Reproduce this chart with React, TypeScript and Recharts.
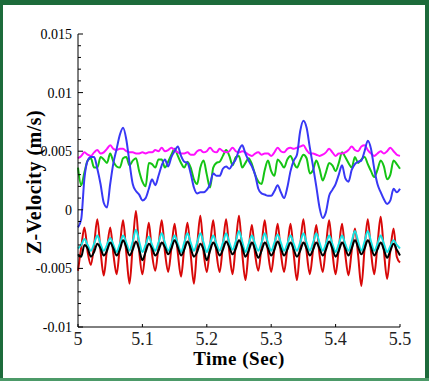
import { LineChart, Line, XAxis, YAxis } from "recharts";

// sample times (s)
const time = [
  5.0, 5.005, 5.01, 5.015, 5.02, 5.025, 5.03, 5.035, 5.04, 5.045,
  5.05, 5.055, 5.06, 5.065, 5.07, 5.075, 5.08, 5.085, 5.09, 5.095,
  5.1, 5.105, 5.11, 5.115, 5.12, 5.125, 5.13, 5.135, 5.14, 5.145,
  5.15, 5.155, 5.16, 5.165, 5.17, 5.175, 5.18, 5.185, 5.19, 5.195,
  5.2, 5.205, 5.21, 5.215, 5.22, 5.225, 5.23, 5.235, 5.24, 5.245,
  5.25, 5.255, 5.26, 5.265, 5.27, 5.275, 5.28, 5.285, 5.29, 5.295,
  5.3, 5.305, 5.31, 5.315, 5.32, 5.325, 5.33, 5.335, 5.34, 5.345,
  5.35, 5.355, 5.36, 5.365, 5.37, 5.375, 5.38, 5.385, 5.39, 5.395,
  5.4, 5.405, 5.41, 5.415, 5.42, 5.425, 5.43, 5.435, 5.44, 5.445,
  5.45, 5.455, 5.46, 5.465, 5.47, 5.475, 5.48, 5.485, 5.49, 5.495,
  5.5,
];

const magenta = [
  0.0044, 0.0046, 0.0049, 0.0047, 0.0046, 0.0049, 0.0051, 0.0048, 0.0049, 0.0052,
  0.0055, 0.0052, 0.0051, 0.0052, 0.0052, 0.005, 0.0049, 0.0049, 0.0048, 0.0048,
  0.0049, 0.0048, 0.0049, 0.0049, 0.0051, 0.005, 0.0053, 0.005, 0.0051, 0.0053,
  0.0051, 0.0049, 0.0048, 0.0048, 0.0049, 0.0047, 0.0047, 0.005, 0.0051, 0.0049,
  0.005, 0.0053, 0.005, 0.0049, 0.0052, 0.005, 0.0049, 0.005, 0.0053, 0.005,
  0.0049, 0.005, 0.0049, 0.0047, 0.0046, 0.0048, 0.0049, 0.0047, 0.0048, 0.0048,
  0.0046, 0.0049, 0.0053, 0.005, 0.0049, 0.0052, 0.0053, 0.0052, 0.0053, 0.0054,
  0.0055, 0.0051, 0.0048, 0.0048, 0.0047, 0.0046, 0.0047, 0.0049, 0.0052, 0.0049,
  0.0046, 0.0048, 0.0048, 0.0049, 0.0051, 0.0054, 0.0051, 0.005, 0.0054, 0.0055,
  0.0051, 0.0048, 0.0046, 0.0048, 0.005, 0.0048, 0.005, 0.0053, 0.005, 0.0047,
  0.0046,
];

const green = [
  0.0036, 0.0021, 0.0032, 0.0042, 0.0044, 0.0036, 0.0036, 0.0045, 0.0043, 0.004,
  0.0048, 0.0041, 0.0037, 0.0036, 0.0044, 0.0045, 0.0038, 0.0042, 0.0044, 0.0033,
  0.0024, 0.002, 0.004, 0.0039, 0.0036, 0.0043, 0.0043, 0.0036, 0.0041, 0.0047,
  0.0052, 0.0046, 0.004, 0.0036, 0.0041, 0.0036, 0.0026, 0.0022, 0.0036, 0.0042,
  0.003, 0.0019, 0.0036, 0.004, 0.0041, 0.0046, 0.0051, 0.0046, 0.0038, 0.0045,
  0.0046, 0.0036, 0.004, 0.0044, 0.0039, 0.003, 0.0024, 0.0022, 0.0034, 0.0042,
  0.0033, 0.0029, 0.0043, 0.004, 0.0036, 0.0043, 0.0046, 0.004, 0.0036, 0.0042,
  0.0047, 0.0044, 0.0031, 0.0034, 0.0042, 0.0035, 0.0025, 0.0032, 0.004, 0.0038,
  0.0033, 0.004, 0.0049, 0.0045, 0.004, 0.0036, 0.0045, 0.004, 0.0043, 0.0045,
  0.0039, 0.0033, 0.0028, 0.0034, 0.0042, 0.0037, 0.0026, 0.003, 0.0042, 0.0039,
  0.0035,
];

const blue = [
  -0.0015, -0.0008, 0.0027, 0.0042, 0.0045, 0.0045, 0.0035, 0.0022, 0.0006, 0.0002,
  0.0022, 0.004, 0.0052, 0.0064, 0.007, 0.006, 0.004, 0.0022, 0.0016, 0.0013,
  0.0008, 0.001, 0.0018, 0.0026, 0.0021, 0.0029, 0.0038, 0.0043, 0.0037, 0.0045,
  0.005, 0.0054, 0.0046, 0.0041, 0.004, 0.0031, 0.0019, 0.0014, 0.0015, 0.0015,
  0.0017, 0.0022, 0.0031, 0.0029, 0.0029, 0.0035, 0.0037, 0.0035, 0.0039, 0.0043,
  0.0051, 0.0055, 0.0048, 0.0042, 0.0037, 0.003, 0.0018, 0.0014, 0.0013, 0.0012,
  0.0012, 0.0016, 0.0021, 0.0015, 0.001, 0.0019, 0.0033, 0.0042, 0.0047, 0.0067,
  0.0076, 0.007, 0.0053, 0.0037, 0.002, 0.0002, -0.0007, -0.0002, 0.0012, 0.0017,
  0.0022, 0.003, 0.0038, 0.0027, 0.0024, 0.0034, 0.0039, 0.0041, 0.0042, 0.005,
  0.0059, 0.0052, 0.0035, 0.0022, 0.0015, 0.0009, 0.0005, 0.0008, 0.0018, 0.0015,
  0.0018,
];

const red = [
  -0.0052, -0.0032, -0.0015, -0.0036, -0.0047, -0.003, -0.0008, -0.0035, -0.0056, -0.0034,
  -0.0015, -0.0038, -0.0055, -0.0031, -0.0009, -0.0037, -0.0063, -0.003, -0.0001, -0.0035,
  -0.0055, -0.0033, -0.0011, -0.0038, -0.0052, -0.0031, -0.0009, -0.0036, -0.0053, -0.0033,
  -0.0012, -0.0037, -0.0057, -0.0032, -0.0011, -0.0038, -0.0063, -0.0031, -0.0005, -0.0036,
  -0.0053, -0.0031, -0.0009, -0.0037, -0.0053, -0.003, -0.0008, -0.0036, -0.0055, -0.0029,
  -0.0005, -0.0037, -0.006, -0.0034, -0.0013, -0.0038, -0.0052, -0.0031, -0.0009, -0.0036,
  -0.0053, -0.0033, -0.0012, -0.0037, -0.0053, -0.0033, -0.0012, -0.0038, -0.006, -0.0031,
  -0.0008, -0.0036, -0.0055, -0.0034, -0.0013, -0.0038, -0.0053, -0.0031, -0.0009, -0.0036,
  -0.0055, -0.0033, -0.0012, -0.0038, -0.0056, -0.0035, -0.0016, -0.0039, -0.0065, -0.0033,
  -0.0008, -0.0036, -0.0055, -0.003, -0.0006, -0.0035, -0.0059, -0.0035, -0.0016, -0.004,
  -0.0045,
];

const cyan = [
  -0.0033, -0.003, -0.0025, -0.003, -0.0035, -0.0029, -0.0022, -0.0029, -0.0035, -0.003,
  -0.0024, -0.003, -0.0036, -0.0029, -0.0022, -0.0028, -0.0035, -0.0027, -0.0017, -0.0027,
  -0.0036, -0.003, -0.0023, -0.003, -0.0035, -0.0028, -0.002, -0.0028, -0.0035, -0.0029,
  -0.0022, -0.0029, -0.0036, -0.0028, -0.002, -0.0028, -0.0035, -0.0028, -0.002, -0.0028,
  -0.0036, -0.0029, -0.0022, -0.0029, -0.0035, -0.0028, -0.002, -0.0028, -0.0034, -0.0027,
  -0.0018, -0.0027, -0.0036, -0.0029, -0.0022, -0.0029, -0.0035, -0.0028, -0.002, -0.0028,
  -0.0035, -0.0028, -0.0021, -0.0028, -0.0035, -0.0029, -0.0022, -0.0029, -0.0035, -0.0028,
  -0.002, -0.0028, -0.0035, -0.0028, -0.002, -0.0028, -0.0035, -0.0029, -0.0022, -0.0029,
  -0.0036, -0.0029, -0.0022, -0.0029, -0.0035, -0.0027, -0.0018, -0.0027, -0.0035, -0.0027,
  -0.0018, -0.0027, -0.0035, -0.0029, -0.0022, -0.0029, -0.0036, -0.0031, -0.0026, -0.003,
  -0.0033,
];

const black = [
  -0.0038, -0.004, -0.003, -0.0033, -0.004, -0.0036, -0.0029, -0.0033, -0.0039, -0.0035,
  -0.0028, -0.0033, -0.0039, -0.0034, -0.0026, -0.0032, -0.0039, -0.0034, -0.0027, -0.0034,
  -0.0043, -0.0036, -0.0029, -0.0033, -0.0039, -0.0035, -0.0028, -0.0032, -0.0038, -0.0033,
  -0.0026, -0.0032, -0.0039, -0.0034, -0.0027, -0.0033, -0.004, -0.0036, -0.0029, -0.0034,
  -0.0043, -0.0035, -0.0028, -0.0033, -0.0039, -0.0034, -0.0027, -0.0032, -0.0038, -0.0033,
  -0.0026, -0.0032, -0.004, -0.0035, -0.0028, -0.0034, -0.0041, -0.0035, -0.0028, -0.0033,
  -0.0039, -0.0034, -0.0027, -0.0033, -0.0039, -0.0034, -0.0028, -0.0034, -0.004, -0.0035,
  -0.0028, -0.0033, -0.0039, -0.0034, -0.0028, -0.0033, -0.0039, -0.0034, -0.0027, -0.0033,
  -0.004, -0.0035, -0.0028, -0.0033, -0.0039, -0.0033, -0.0026, -0.0032, -0.0038, -0.0033,
  -0.0026, -0.0032, -0.0039, -0.0034, -0.0028, -0.0034, -0.0041, -0.0035, -0.0029, -0.0034,
  -0.0039,
];

const yTicks = [
  -0.01, -0.009, -0.008, -0.007, -0.006, -0.005, -0.004, -0.003, -0.002, -0.001,
  0, 0.001, 0.002, 0.003, 0.004, 0.005, 0.006, 0.007, 0.008, 0.009,
  0.01, 0.011, 0.012, 0.013, 0.014, 0.015,
];
const yMajor = [-0.01, -0.005, 0, 0.005, 0.01, 0.015];
const yMajorLabels = ["-0.01", "-0.005", "0", "0.005", "0.01", "0.015"];
const xTicks = [5, 5.1, 5.2, 5.3, 5.4, 5.5];
const xTickLabels = ["5", "5.1", "5.2", "5.3", "5.4", "5.5"];

const serif = { fontFamily: "'Liberation Serif', 'Times New Roman', Times, serif" };

const data = time.map((t, i) => ({
  t,
  magenta: magenta[i],
  green: green[i],
  blue: blue[i],
  red: red[i],
  cyan: cyan[i],
  black: black[i],
}));

function YTick(props: any) {
  const { x, y, payload } = props;
  const idx = yMajor.findIndex((m) => Math.abs(m - payload.value) < 1e-9);
  const axisX = x + 6;
  return (
    <g>
      <line x1={axisX} x2={axisX + (idx >= 0 ? 5 : 3)} y1={y} y2={y} stroke="#000" />
      {idx >= 0 && (
        <text x={x} y={y} dy={5} textAnchor="end" fontSize={14} style={serif} fill="#000">
          {yMajorLabels[idx]}
        </text>
      )}
    </g>
  );
}

function XTick(props: any) {
  const { x, y, payload } = props;
  const idx = xTicks.findIndex((m) => Math.abs(m - payload.value) < 1e-9);
  return (
    <g>
      <line x1={x} x2={x} y1={y} y2={y - 3} stroke="#000" />
      <text x={x} y={y} dy={18} textAnchor="middle" fontSize={18} style={serif} fill="#222">
        {xTickLabels[idx]}
      </text>
    </g>
  );
}

const series = [
  { key: "green", color: "#14c414" },
  { key: "magenta", color: "#ff10ff" },
  { key: "blue", color: "#3838f5" },
  { key: "red", color: "#d80808" },
  { key: "cyan", color: "#14e4e4" },
  { key: "black", color: "#000000" },
];

export default function App() {
  return (
    <div style={{ position: "relative", width: 429, height: 381, background: "#1d6b3b" }}>
      <style>{`body{margin:0}`}</style>
      <div style={{ position: "absolute", left: 0, right: 0, bottom: 0, height: 3, background: "#4c9a68" }} />
      <div style={{ position: "absolute", left: 3, top: 5, width: 422, height: 373, background: "#fff" }} />
      <div style={{ position: "absolute", left: 0, top: 0 }}>
        <LineChart width={429} height={381} data={data} margin={{ top: 34, right: 29, left: 0, bottom: 0 }}>
          <XAxis
            dataKey="t"
            type="number"
            domain={[5, 5.5]}
            ticks={xTicks}
            interval={0}
            height={54}
            tickSize={0}
            tickMargin={0}
            tickLine={false}
            axisLine={{ stroke: "#000" }}
            tick={<XTick />}
          />
          <YAxis
            type="number"
            domain={[-0.01, 0.015]}
            ticks={yTicks}
            interval={0}
            width={78}
            tickSize={0}
            tickMargin={6}
            tickLine={false}
            axisLine={{ stroke: "#000" }}
            tick={<YTick />}
            allowDataOverflow
          />
          {series.map((s) => (
            <Line
              key={s.key}
              dataKey={s.key}
              type="monotone"
              stroke={s.color}
              strokeWidth={2}
              dot={false}
              isAnimationActive={false}
            />
          ))}
        </LineChart>
      </div>
      <svg
        width={429}
        height={381}
        style={{ position: "absolute", left: 0, top: 0, pointerEvents: "none" }}
      >
        <text
          transform="translate(34,182) rotate(-90)"
          textAnchor="middle"
          dominantBaseline="central"
          style={serif}
          fontWeight="bold"
          fontSize={20}
          letterSpacing={0.5}
          fill="#000"
        >
          Z-Velocity (m/s)
        </text>
        <text
          x={239}
          y={365}
          textAnchor="middle"
          style={serif}
          fontWeight="bold"
          fontSize={19}
          letterSpacing={0.5}
          fill="#000"
        >
          Time (Sec)
        </text>
      </svg>
    </div>
  );
}
